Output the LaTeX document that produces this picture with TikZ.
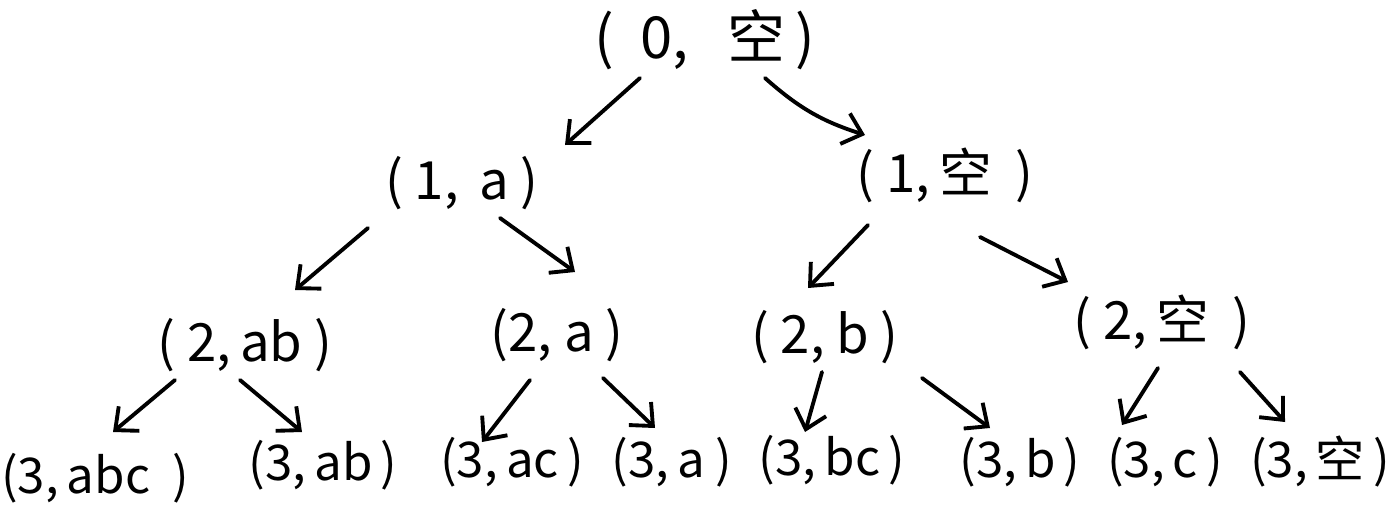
\documentclass[tikz,border=0pt]{standalone}
\usepackage{fontspec}
\setmainfont{Noto Sans CJK SC}
\usetikzlibrary{arrows.meta, calc}

\begin{document}
\begin{tikzpicture}[x=0.02cm, y=-0.02cm, >={Straight Barb[length=3.6mm, width=6.4mm]},
    st/.style={inner sep=1pt, font=\fontsize{30}{34}\selectfont},
    lf/.style={inner sep=1pt, font=\fontsize{28}{32}\selectfont},
    arr/.style={->, line width=2.2pt, line cap=round}]
  \useasboundingbox (0,0) rectangle (1388,517);
  % levels 0 and 1
  \node[st, font=\fontsize{33}{37}\selectfont] (r) at (705,40) {(\ \ 0,\ \ \ 空\,)};
  \node[st] (a)  at (462,183) {(\ 1,\ \,a\ )};
  \node[st] (e)  at (945,175) {(\ 1,\,空\ \ )};
  % level 2
  \node[st] (ab) at (245,345) {(\ 2,\,ab\ )};
  \node[st] (aa) at (557,335) {(2,\ a\ )};
  \node[st] (b)  at (825,337) {(\ 2,\ b\ )};
  \node[st] (ee) at (1162,322) {(\ 2,\,空\ \ )};
  % leaves
  \node[lf] (abc) at (95,478)  {(3,\,abc\ \ )};
  \node[lf] (ab3) at (323,465) {(3,\,ab\,)};
  \node[lf] (ac)  at (512,462) {(3,\,ac\,)};
  \node[lf] (a3)  at (672,462) {(3,\,a\ )};
  \node[lf] (bc)  at (832,460) {(3,\,bc\,)};
  \node[lf] (b3)  at (1020,462) {(3,\,b\,)};
  \node[lf] (c)   at (1165,462) {(3,\,c\,)};
  \node[lf] (e3)  at (1320,462) {(3,\,空\,)};
  % connectors
  \draw[arr] ($(r)+(60,38)$) to[bend right=12] ($(e)+(-80,-40)$);
  \foreach \p/\dx/\dy/\q/\ex/\ey in {r/-65/38/a/103/-38,
      a/-94/45/ab/50/-55, a/38/35/aa/18/-63,
      e/-77/50/b/-17/-49, e/35/62/ee/-94/-40,
      ab/-70/35/abc/18/-46, ab/-5/35/ab3/-21/-33,
      aa/-27/45/ac/-30/-20, aa/46/43/a3/-17/-34,
      b/-3/35/bc/-27/-28, b/97/41/b3/-30/-34,
      ee/-4/46/c/-43/-37, ee/78/50/e3/-35/-40}
    \draw[arr] ($(\p)+(\dx,\dy)$) -- ($(\q)+(\ex,\ey)$);
\end{tikzpicture}
\end{document}
